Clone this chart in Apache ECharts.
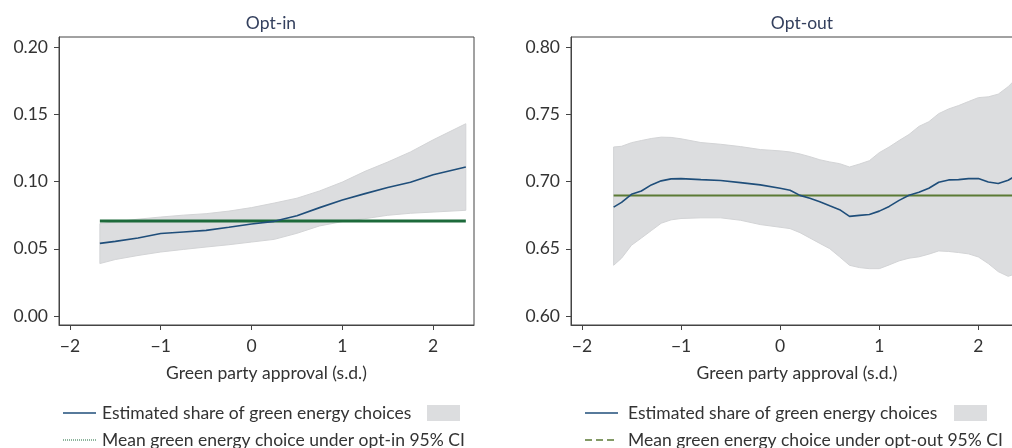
<!DOCTYPE html>
<html>
<head>
<meta charset="utf-8">
<script src="https://cdn.jsdelivr.net/npm/echarts@6/dist/echarts.min.js"></script>
<style>
html,body{margin:0;padding:0;background:#fff;}
#c{width:1012px;height:448px;}
</style>
</head>
<body>
<div id="c"></div>
<script>
// ---------- data ----------
const titles = ['Opt-in', 'Opt-out'];
const xName = 'Green party approval (s.d.)';
const xTicks = [-2, -1, 0, 1, 2];
const yTicksIn = [0.00, 0.05, 0.10, 0.15, 0.20];
const yTicksOut = [0.60, 0.65, 0.70, 0.75, 0.80];

const xIn = [-1.67, -1.5, -1.25, -1.0, -0.75, -0.5, -0.25, 0, 0.25, 0.5, 0.75, 1.0, 1.25, 1.5, 1.75, 2.0, 2.36];
const estIn = [0.054, 0.0555, 0.058, 0.0613, 0.0625, 0.0637, 0.066, 0.0684, 0.0704, 0.0746, 0.0806, 0.0862, 0.091, 0.0955, 0.0994, 0.105, 0.1108];
const upperIn = [0.0687, 0.070, 0.072, 0.0736, 0.075, 0.0761, 0.078, 0.0806, 0.084, 0.0876, 0.093, 0.0996, 0.1076, 0.1145, 0.122, 0.131, 0.143];
const lowerIn = [0.039, 0.042, 0.045, 0.0476, 0.0495, 0.0513, 0.053, 0.055, 0.057, 0.0615, 0.067, 0.0702, 0.0724, 0.0749, 0.0764, 0.0773, 0.0786];
const meanIn = 0.0707;

const xOut = [-1.68, -1.6, -1.5, -1.4, -1.3, -1.2, -1.1, -1.0, -0.8, -0.6, -0.4, -0.2, 0, 0.1, 0.2, 0.3, 0.4, 0.5, 0.6, 0.7, 0.8, 0.9, 1.0, 1.1, 1.2, 1.3, 1.4, 1.5, 1.6, 1.7, 1.8, 1.9, 2.0, 2.1, 2.2, 2.3, 2.36];
const estOut = [0.681, 0.6845, 0.6905, 0.693, 0.6975, 0.7005, 0.702, 0.7022, 0.7014, 0.7008, 0.6992, 0.6975, 0.695, 0.6935, 0.6897, 0.6875, 0.685, 0.682, 0.6791, 0.6741, 0.6748, 0.6755, 0.678, 0.6815, 0.686, 0.6898, 0.692, 0.695, 0.6995, 0.7012, 0.7014, 0.7022, 0.7022, 0.6996, 0.6986, 0.701, 0.7035];
const upperOut = [0.7257, 0.7262, 0.7289, 0.7305, 0.732, 0.733, 0.7328, 0.7318, 0.729, 0.7277, 0.726, 0.7238, 0.7228, 0.722, 0.7205, 0.7185, 0.7162, 0.7146, 0.7133, 0.7108, 0.713, 0.7155, 0.7215, 0.7257, 0.7305, 0.735, 0.741, 0.7445, 0.7505, 0.754, 0.7565, 0.7595, 0.7624, 0.763, 0.765, 0.7705, 0.775];
const lowerOut = [0.6377, 0.643, 0.6526, 0.658, 0.6635, 0.669, 0.6715, 0.6725, 0.673, 0.673, 0.6712, 0.668, 0.666, 0.665, 0.662, 0.658, 0.654, 0.6501, 0.644, 0.6377, 0.636, 0.6352, 0.6352, 0.638, 0.641, 0.643, 0.644, 0.646, 0.6484, 0.648, 0.6472, 0.6462, 0.6439, 0.639, 0.633, 0.6295, 0.631];
const meanOut = 0.6897;

const legendLabels = ['Estimated share of green energy choices', 'Mean green energy choice under opt-in 95% CI', 'Mean green energy choice under opt-out 95% CI'];

// ---------- style ----------
const FONT = 'Lato';
const FS = 17.5;
const TXT = '#333';
const AX = '#444';
const BLUE = '#1f4e7a';
const GREEN_IN = '#1d6a3b';
const GREEN_OUT = '#5b7a35';
const BAND = '#dcdddf';

function fmtX(v){ return v < 0 ? '\u2212' + Math.abs(v) : String(v); }
function fmtY(v){ return v.toFixed(2); }
function pairs(xs, ys){ return xs.map((x,i)=>[x, ys[i]]); }

function xAxis(idx){
  return {
    gridIndex: idx, type: 'value', min: idx===0 ? -2.12 : -2.11, max: 2.45,
    name: xName, nameLocation: 'middle', nameGap: 39,
    nameTextStyle: {fontFamily: FONT, fontSize: FS, color: TXT},
    axisLine: {show: true, onZero: false, lineStyle: {color: AX, width: 1}},
    axisTick: {show: true, length: 5, customValues: xTicks, lineStyle: {color: AX}},
    axisLabel: {customValues: xTicks, formatter: fmtX, fontFamily: FONT, fontSize: FS, color: TXT, margin: 12},
    splitLine: {show: false}
  };
}
function yAxis(idx, ticks, min, max){
  return {
    gridIndex: idx, type: 'value', min: min, max: max,
    axisLine: {show: true, onZero: false, lineStyle: {color: AX, width: 1}},
    axisTick: {show: true, length: 5, customValues: ticks, lineStyle: {color: AX}},
    axisLabel: {customValues: ticks, formatter: fmtY, fontFamily: FONT, fontSize: FS, color: TXT, margin: 11},
    splitLine: {show: false}
  };
}

function bandSeries(idx, xs, lo, hi){
  const rows = xs.map((x,i)=>[x, lo[i], hi[i]]);
  return {
    type: 'custom', xAxisIndex: idx, yAxisIndex: idx, data: rows, silent: true, z: 1,
    encode: {x: 0, y: [1, 2]},
    renderItem: function(params, api){
      if (params.dataIndex !== 0) return null;
      const top = rows.map(r => api.coord([r[0], r[2]]));
      const bot = rows.slice().reverse().map(r => api.coord([r[0], r[1]]));
      return {type: 'polygon', shape: {points: top.concat(bot)},
              style: {fill: BAND, stroke: '#d3d4d6', lineWidth: 1}};
    }
  };
}

function panelSeries(idx, xs, est, lo, hi, mean, greenColor, greenWidth){
  return [
    bandSeries(idx, xs, lo, hi),
    {type: 'line', xAxisIndex: idx, yAxisIndex: idx, data: [[xs[0], mean], [xs[xs.length-1], mean]],
     symbol: 'none', lineStyle: {color: greenColor, width: greenWidth}, z: 2},
    {type: 'line', xAxisIndex: idx, yAxisIndex: idx, data: pairs(xs, est),
     symbol: 'none', lineStyle: {color: BLUE, width: 1.6}, z: 3}
  ];
}

function legend(x0, textX, boxX, label2, greenColor, dash){
  return [
    {type: 'line', shape: {x1: x0, y1: 413, x2: x0 + 33, y2: 413}, style: {stroke: BLUE, lineWidth: 1.5}},
    {type: 'text', x: textX, y: 413, style: {text: legendLabels[0], font: FS + 'px ' + FONT, fill: TXT, verticalAlign: 'middle'}},
    {type: 'rect', shape: {x: boxX, y: 405, width: 33, height: 16}, style: {fill: BAND}},
    {type: 'line', shape: {x1: x0, y1: 440, x2: x0 + 33, y2: 440}, style: {stroke: greenColor, lineWidth: dash ? 1.5 : 1, lineDash: dash ? [7, 4] : [1, 1]}},
    {type: 'text', x: textX, y: 440, style: {text: label2, font: FS + 'px ' + FONT, fill: TXT, verticalAlign: 'middle'}}
  ];
}

const chart = echarts.init(document.getElementById('c'), null, {renderer: 'canvas'});
chart.setOption({
  animation: false,
  backgroundColor: '#fff',
  title: [
    {text: titles[0], left: 266, top: 9, textAlign: 'center', textStyle: {fontFamily: FONT, fontSize: FS, fontWeight: 'normal', color: '#34405e'}},
    {text: titles[1], left: 797, top: 9, textAlign: 'center', textStyle: {fontFamily: FONT, fontSize: FS, fontWeight: 'normal', color: '#34405e'}}
  ],
  grid: [
    {left: 59, top: 37, width: 415, height: 288, show: true, borderColor: AX, borderWidth: 1, backgroundColor: 'transparent', outerBoundsMode: 'none', containLabel: false},
    {left: 571, top: 37, width: 452, height: 288, show: true, borderColor: AX, borderWidth: 1, backgroundColor: 'transparent', outerBoundsMode: 'none', containLabel: false}
  ],
  xAxis: [xAxis(0), xAxis(1)],
  yAxis: [yAxis(0, yTicksIn, -0.0067, 0.2075), yAxis(1, yTicksOut, 0.5933, 0.8075)],
  series: [].concat(
    panelSeries(0, xIn, estIn, lowerIn, upperIn, meanIn, GREEN_IN, 3),
    panelSeries(1, xOut, estOut, lowerOut, upperOut, meanOut, GREEN_OUT, 2)
  ),
  graphic: [].concat(
    legend(63, 102, 427, legendLabels[1], GREEN_IN, false),
    legend(585, 628, 954, legendLabels[2], GREEN_OUT, true)
  )
});
</script>
</body>
</html>
